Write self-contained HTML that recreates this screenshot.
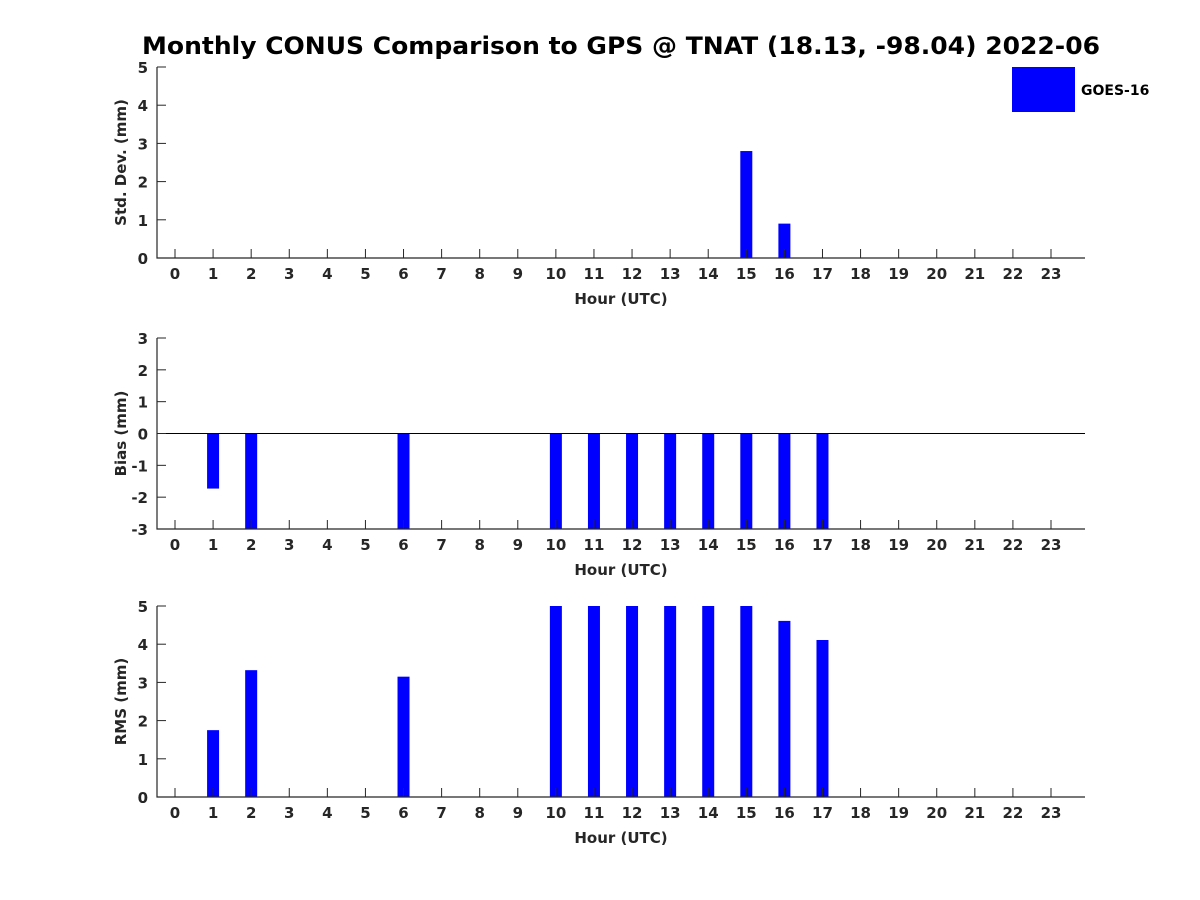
<!DOCTYPE html>
<html><head><meta charset="utf-8"><style>
body{margin:0;background:#fff;}
svg{display:block;font-family:"DejaVu Sans","Liberation Sans",sans-serif;}
</style></head><body>
<svg id="chart" width="1200" height="900">
<text x="621" y="54" text-anchor="middle" font-size="24" font-weight="bold" fill="#000" textLength="958" lengthAdjust="spacingAndGlyphs">Monthly CONUS Comparison to GPS @ TNAT (18.13, -98.04) 2022-06</text>
<g>
<rect x="1012" y="67" width="63" height="45" fill="#0000ff"/>
<text x="1081" y="95" font-size="14" font-weight="bold" fill="#000">GOES-16</text>
</g>
</svg>
<script>
const hours = [0,1,2,3,4,5,6,7,8,9,10,11,12,13,14,15,16,17,18,19,20,21,22,23];
const stdValues = [0,0,0,0,0,0,0,0,0,0,0,0,0,0,0,2.8,0.9,0,0,0,0,0,0,0];
const biasValues = [0,-1.73,-3,0,0,0,-3,0,0,0,-3,-3,-3,-3,-3,-3,-3,-3,0,0,0,0,0,0];
const rmsValues = [0,1.75,3.32,0,0,0,3.15,0,0,0,5,5,5,5,5,5,4.61,4.11,0,0,0,0,0,0];
const stdTicks = [0,1,2,3,4,5];
const biasTicks = [-3,-2,-1,0,1,2,3];
const rmsTicks = [0,1,2,3,4,5];

const NS = "http://www.w3.org/2000/svg";
const svg = document.getElementById('chart');
const X0 = 157, X1 = 1085;
function xs(h){ return 175 + h * (1051 - 175) / 23; }
function mk(tag, attrs, parent){
  const e = document.createElementNS(NS, tag);
  for (const k in attrs) e.setAttribute(k, attrs[k]);
  parent.appendChild(e); return e;
}
function panel(name, top, bottom, ymin, ymax, ticks, vals, ylabel, zeroLine){
  const g = mk('g', {}, svg);
  
  
  const ys = v => bottom - (v - ymin) / (ymax - ymin) * (bottom - top);
  vals.forEach((v, i) => {
    if (v === 0) return;
    const y0 = ys(0), y1 = ys(v);
    const r = mk('rect', {x: xs(hours[i]) - 6, y: Math.min(y0, y1), width: 12, height: Math.abs(y1 - y0), fill: '#0000ff'}, g);
    
    
  });
  if (zeroLine) {
    const z = mk('line', {x1: X0, x2: X1, y1: ys(0), y2: ys(0), stroke: '#000', 'stroke-width': 1}, g);
    
    
  }
  const ax = mk('path', {d: `M${X0} ${top} V${bottom} H${X1}`, stroke: '#262626', 'stroke-width': 1.2, fill: 'none'}, g);
  
  
  hours.forEach(h => {
    mk('line', {x1: xs(h), x2: xs(h), y1: bottom, y2: bottom - 9, stroke: '#262626'}, g);
    const t = mk('text', {x: xs(h), y: bottom + 21, 'text-anchor': 'middle', 'font-size': 15, 'font-weight': 'bold', fill: '#262626'}, g);
    t.textContent = h;
    
    
  });
  ticks.forEach(v => {
    mk('line', {x1: X0, x2: X0 + 9, y1: ys(v), y2: ys(v), stroke: '#262626'}, g);
    const t = mk('text', {x: X0 - 9, y: ys(v) + 6, 'text-anchor': 'end', 'font-size': 15, 'font-weight': 'bold', fill: '#262626'}, g);
    t.textContent = v;
    
    
  });
  const xl = mk('text', {x: 621, y: bottom + 46, 'text-anchor': 'middle', 'font-size': 15, 'font-weight': 'bold', fill: '#262626'}, g);
  xl.textContent = 'Hour (UTC)';
  
  
  const cy = (top + bottom) / 2;
  const yl = mk('text', {x: 126, y: cy, 'text-anchor': 'middle', 'font-size': 15, 'font-weight': 'bold', fill: '#262626', transform: `rotate(-90 126 ${cy})`}, g);
  yl.textContent = ylabel;
  
  
}
panel('std-dev', 67, 258, 0, 5, stdTicks, stdValues, 'Std. Dev. (mm)', false);
panel('bias', 338, 529, -3, 3, biasTicks, biasValues, 'Bias (mm)', true);
panel('rms', 606, 797, 0, 5, rmsTicks, rmsValues, 'RMS (mm)', false);
</script>
</body></html>
